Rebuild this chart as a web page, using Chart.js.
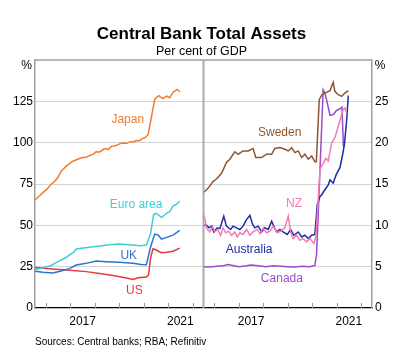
<!DOCTYPE html>
<html>
<head>
<meta charset="utf-8">
<script src="https://cdn.jsdelivr.net/npm/chart.js@4"></script>
<style>
  html, body { margin: 0; padding: 0; background: #fff; }
</style>
</head>
<body>
<canvas id="chart" width="403" height="363"></canvas>
<script>
// both panels run over the same dates; right panel is shifted by one span
const panelStart = 2015.55;
const panelSpan = 6.9;

const leftTicks = [0, 25, 50, 75, 100, 125, 150];
const rightTicks = [0, 5, 10, 15, 20, 25, 30];
const yearLabels = [2017, 2021];
const yearMarks = [2016, 2017, 2018, 2019, 2020, 2021, 2022];

// left panel, per cent of GDP
const japanYears = [2015.55, 2015.75, 2015.94, 2016.05, 2016.21, 2016.35, 2016.49, 2016.62, 2016.83, 2017.1, 2017.37, 2017.5, 2017.65, 2017.8, 2017.92, 2018.05, 2018.2, 2018.35, 2018.47, 2018.55, 2018.68, 2018.8, 2018.95, 2019.1, 2019.3, 2019.45, 2019.56, 2019.7, 2019.84, 2019.95, 2020.04, 2020.18, 2020.31, 2020.45, 2020.55, 2020.63, 2020.72, 2020.8, 2020.94, 2021.07, 2021.2, 2021.3, 2021.37, 2021.48];
const japanValues = [65.3, 68, 70.7, 72, 74.8, 76.5, 79.1, 82.8, 85.8, 88.8, 90.4, 91, 91.2, 92.3, 92.8, 94.5, 94.4, 96, 96.4, 95.8, 97.8, 98, 98.8, 99.8, 99.6, 100.6, 100.4, 101.3, 101.2, 102.6, 102.8, 104.8, 114.8, 126.2, 127.6, 128.4, 127.2, 126.8, 128.2, 127.2, 130.4, 131.5, 132.2, 130.8];

const euroYears = [2015.55, 2015.87, 2016.21, 2016.49, 2016.83, 2017.03, 2017.13, 2017.24, 2017.44, 2017.78, 2018.2, 2018.6, 2019.0, 2019.43, 2019.84, 2020.11, 2020.28, 2020.41, 2020.52, 2020.73, 2020.94, 2021.07, 2021.2, 2021.34, 2021.48];
const euroValues = [23.1, 24.3, 25.7, 28.1, 30.7, 32.7, 33.7, 35.7, 36.1, 36.7, 37.5, 38.3, 38.7, 38.3, 37.7, 38.1, 44.7, 56.7, 57.3, 54.7, 57.3, 58.3, 61.7, 62.7, 64.7];

const ukYears = [2015.55, 2015.87, 2016.28, 2016.62, 2016.96, 2017.24, 2017.65, 2018.06, 2018.47, 2019.0, 2019.56, 2019.9, 2020.11, 2020.28, 2020.45, 2020.59, 2020.73, 2020.94, 2021.2, 2021.48];
const ukValues = [22.2, 21.6, 21.2, 22.4, 23.8, 26.0, 27.0, 28.4, 28.0, 27.6, 27.0, 26.3, 26.2, 36.7, 44.7, 44.2, 41.7, 42.7, 44.1, 47.0];

const usYears = [2015.55, 2016.14, 2016.83, 2017.65, 2018.2, 2018.74, 2019.3, 2019.56, 2019.77, 2020.11, 2020.2, 2020.28, 2020.38, 2020.45, 2020.73, 2020.94, 2021.2, 2021.48];
const usValues = [24.5, 23.8, 23.0, 22.0, 20.8, 19.6, 18.2, 17.2, 18.3, 18.8, 20, 30, 35.7, 35.5, 33.4, 33.7, 34.3, 36.2];

// right panel, per cent of GDP
const swedenYears = [2015.57, 2015.74, 2015.94, 2016.08, 2016.29, 2016.49, 2016.63, 2016.83, 2016.97, 2017.17, 2017.38, 2017.58, 2017.69, 2017.93, 2018.13, 2018.34, 2018.47, 2018.68, 2018.88, 2019.02, 2019.16, 2019.29, 2019.43, 2019.57, 2019.7, 2019.84, 2019.98, 2020.11, 2020.17, 2020.29, 2020.4, 2020.52, 2020.73, 2020.86, 2020.93, 2021.07, 2021.21, 2021.34, 2021.48];
const swedenValues = [14.0, 14.5, 15.3, 15.6, 16.3, 17.6, 18.0, 18.9, 18.6, 19.0, 19.0, 19.3, 18.2, 18.2, 18.6, 18.6, 19.3, 19.4, 19.2, 19.0, 19.4, 18.8, 19.0, 18.2, 18.6, 18.0, 18.4, 17.7, 17.7, 25.2, 25.8, 26.0, 26.3, 27.3, 26.2, 25.8, 25.6, 26.0, 26.3];

const nzYears = [2015.55, 2015.6, 2015.67, 2015.81, 2015.92, 2016.01, 2016.13, 2016.25, 2016.35, 2016.46, 2016.57, 2016.7, 2016.83, 2016.93, 2017.04, 2017.17, 2017.31, 2017.45, 2017.58, 2017.75, 2017.86, 2018.0, 2018.13, 2018.27, 2018.4, 2018.57, 2018.72, 2018.88, 2019.02, 2019.12, 2019.22, 2019.36, 2019.5, 2019.63, 2019.77, 2019.91, 2020.07, 2020.15, 2020.25, 2020.32, 2020.45, 2020.56, 2020.66, 2020.8, 2020.93, 2021.11, 2021.21, 2021.27, 2021.34, 2021.41];
const nzValues = [11.3, 10.9, 9.7, 9.2, 9.9, 9.2, 9.5, 8.8, 9.7, 9.1, 9.3, 8.8, 9.2, 8.6, 9.1, 8.9, 9.5, 8.8, 9.2, 9.5, 9.0, 9.7, 9.1, 9.3, 9.9, 9.1, 9.3, 9.7, 11.1, 9.2, 8.4, 8.8, 8.2, 8.4, 8.0, 8.4, 7.8, 8.6, 13.3, 16.8, 17.5, 18.1, 17.8, 20.0, 20.6, 22.4, 23.4, 24.0, 24.2, 23.6];

const australiaYears = [2015.55, 2015.64, 2015.78, 2015.88, 2015.97, 2016.11, 2016.22, 2016.38, 2016.49, 2016.66, 2016.76, 2016.9, 2017.04, 2017.17, 2017.31, 2017.45, 2017.56, 2017.65, 2017.79, 2017.93, 2018.06, 2018.2, 2018.34, 2018.43, 2018.54, 2018.68, 2018.81, 2018.98, 2019.12, 2019.25, 2019.43, 2019.57, 2019.7, 2019.84, 2019.98, 2020.11, 2020.21, 2020.32, 2020.39, 2020.52, 2020.66, 2020.73, 2020.86, 2020.98, 2021.14, 2021.25, 2021.32, 2021.41, 2021.48];
const australiaValues = [9.9, 10.1, 9.7, 9.9, 9.2, 9.7, 9.6, 11.1, 9.9, 9.5, 9.9, 9.7, 9.5, 9.9, 10.7, 11.2, 10.1, 9.7, 9.9, 9.2, 9.7, 9.5, 10.5, 9.9, 9.2, 9.5, 9.2, 8.9, 9.5, 8.8, 9.2, 8.6, 8.8, 8.4, 8.8, 8.9, 12.5, 13.5, 13.7, 14.3, 14.9, 15.5, 15.1, 16.1, 17.0, 18.6, 19.8, 22.6, 25.7];

const canadaYears = [2015.55, 2015.8, 2016.1, 2016.4, 2016.55, 2016.8, 2017.0, 2017.3, 2017.5, 2017.8, 2018.1, 2018.4, 2018.7, 2019.0, 2019.3, 2019.6, 2019.9, 2020.11, 2020.18, 2020.25, 2020.35, 2020.45, 2020.52, 2020.62, 2020.73, 2020.86, 2021.0, 2021.14, 2021.22, 2021.28, 2021.34];
const canadaValues = [5.0, 4.95, 5.05, 5.15, 5.25, 5.1, 5.0, 5.1, 5.2, 5.1, 5.0, 5.1, 5.05, 5.0, 4.95, 5.05, 5.0, 5.15, 6.5, 11.5, 19, 26.4, 26.0, 24.8, 23.3, 23.4, 23.9, 24.1, 24.3, 19.6, 19.7];

function toPoints(years, values, panel) {
    return years.map((yr, i) => ({ x: yr - panelStart + panel * panelSpan, y: values[i] }));
}

function series(label, years, values, panel, color) {
    return {
        label: label,
        data: toPoints(years, values, panel),
        yAxisID: panel === 0 ? 'yL' : 'yR',
        borderColor: color,
        borderWidth: 1.5,
        pointRadius: 0,
        tension: 0,
        fill: false,
    };
}

const colors = {
    japan: '#f47b2e',
    euro: '#3dcfd8',
    uk: '#2f74d0',
    us: '#e8383d',
    sweden: '#8b5631',
    nz: '#f47cb0',
    australia: '#1e2daa',
    canada: '#9a4ccb',
};

// label anchors in data units: [text, x offset, value, panel, color]
const seriesLabels = [
    ['Japan', 3.80, 114, 0, colors.japan],
    ['Euro area', 4.14, 62.7, 0, colors.euro],
    ['UK', 3.84, 31.9, 0, colors.uk],
    ['US', 4.07, 10.3, 0, colors.us],
    ['Sweden', 10.02, 21.25, 1, colors.sweden],
    ['NZ', 10.61, 12.66, 1, colors.nz],
    ['Australia', 8.77, 7.1, 1, colors.australia],
    ['Canada', 10.11, 3.5, 1, colors.canada],
];

const font = '"Liberation Sans", Arial, sans-serif';

const extras = {
    id: 'extras',
    afterDatasetsDraw(chart) {
        const { ctx, chartArea: a, scales } = chart;
        const x = scales.x;
        ctx.save();

        // top frame
        ctx.strokeStyle = '#a0a0a0';
        ctx.lineWidth = 1.5;
        ctx.beginPath();
        ctx.moveTo(a.left, a.top);
        ctx.lineTo(a.right, a.top);
        ctx.stroke();

        // panel divider
        const mid = x.getPixelForValue(panelSpan);
        ctx.strokeStyle = '#aaaaaa';
        ctx.lineWidth = 2;
        ctx.beginPath();
        ctx.moveTo(mid, a.top);
        ctx.lineTo(mid, a.bottom);
        ctx.stroke();

        // year tick marks, inside the plot
        ctx.strokeStyle = '#999999';
        ctx.lineWidth = 1;
        [0, 1].forEach(p => {
            yearMarks.forEach(yr => {
                const px = Math.round(x.getPixelForValue(yr - panelStart + p * panelSpan)) + 0.5;
                ctx.beginPath();
                ctx.moveTo(px, a.bottom - 5);
                ctx.lineTo(px, a.bottom);
                ctx.stroke();
            });
        });

        // series labels
        ctx.font = '12px ' + font;
        ctx.textAlign = 'center';
        ctx.textBaseline = 'middle';
        seriesLabels.forEach(([text, u, v, p, color]) => {
            const yScale = p === 0 ? scales.yL : scales.yR;
            ctx.fillStyle = color;
            ctx.fillText(text, x.getPixelForValue(u), yScale.getPixelForValue(v));
        });

        // % units
        ctx.fillStyle = '#000';
        ctx.fillText('%', a.left - 8.5, a.top + 5.5);
        ctx.fillText('%', a.right + 8, a.top + 5.5);

        // titles and source
        ctx.font = 'bold 17px ' + font;
        ctx.textBaseline = 'alphabetic';
        ctx.fillText('Central Bank Total Assets', 201.5, 39);
        ctx.font = '12.5px ' + font;
        ctx.fillText('Per cent of GDP', 201.5, 54.5);
        ctx.font = '10px ' + font;
        ctx.textAlign = 'left';
        ctx.fillText('Sources: Central banks; RBA; Refinitiv', 35, 345);
        ctx.restore();
    }
};

const tickFont = { family: font, size: 12 };

const chart = new Chart(document.getElementById('chart'), {
    type: 'line',
    data: {
        datasets: [
            series('Japan', japanYears, japanValues, 0, colors.japan),
            series('Euro area', euroYears, euroValues, 0, colors.euro),
            series('UK', ukYears, ukValues, 0, colors.uk),
            series('US', usYears, usValues, 0, colors.us),
            series('Sweden', swedenYears, swedenValues, 1, colors.sweden),
            series('NZ', nzYears, nzValues, 1, colors.nz),
            series('Australia', australiaYears, australiaValues, 1, colors.australia),
            series('Canada', canadaYears, canadaValues, 1, colors.canada),
        ]
    },
    options: {
        responsive: false,
        animation: false,
        devicePixelRatio: 1,
        layout: { padding: { top: 60, left: 0, right: 0, bottom: 0 } },
        plugins: {
            legend: { display: false },
            tooltip: { enabled: false },
        },
        scales: {
            x: {
                type: 'linear',
                min: 0,
                max: panelSpan * 2,
                afterBuildTicks: (scale) => {
                    const t = [];
                    [0, 1].forEach(p => yearLabels.forEach(yr => t.push({ value: yr + 0.5 - panelStart + p * panelSpan })));
                    scale.ticks = t;
                },
                afterFit: (scale) => { scale.height = 55; },
                ticks: {
                    autoSkip: false,
                    maxRotation: 0,
                    padding: 6,
                    color: '#000',
                    font: tickFont,
                    callback: (v) => String(Math.floor((v < panelSpan ? v : v - panelSpan) + panelStart + 1e-6)),
                },
                grid: { display: false, drawTicks: false },
                border: { display: true, color: '#000', width: 1.2 },
            },
            yL: {
                position: 'left',
                min: 0,
                max: 150,
                afterBuildTicks: (scale) => { scale.ticks = leftTicks.map(v => ({ value: v })); },
                afterFit: (scale) => { scale.width = 35; },
                ticks: {
                    padding: 2,
                    color: '#000',
                    font: tickFont,
                    callback: (v) => (v === 150 ? '' : v),
                },
                grid: {
                    drawTicks: false,
                    color: (c) => (c.tick && (c.tick.value === 0 || c.tick.value === 150) ? 'rgba(0,0,0,0)' : '#d4d4d4'),
                    lineWidth: 1,
                },
                border: { display: true, color: '#a0a0a0', width: 1.5 },
            },
            yR: {
                position: 'right',
                min: 0,
                max: 30,
                afterBuildTicks: (scale) => { scale.ticks = rightTicks.map(v => ({ value: v })); },
                afterFit: (scale) => { scale.width = 31; },
                ticks: {
                    padding: 3,
                    color: '#000',
                    font: tickFont,
                    callback: (v) => (v === 30 ? '' : v),
                },
                grid: { display: false, drawTicks: false },
                border: { display: true, color: '#a0a0a0', width: 1.5 },
            },
        }
    },
    plugins: [extras]
});
</script>
</body>
</html>
